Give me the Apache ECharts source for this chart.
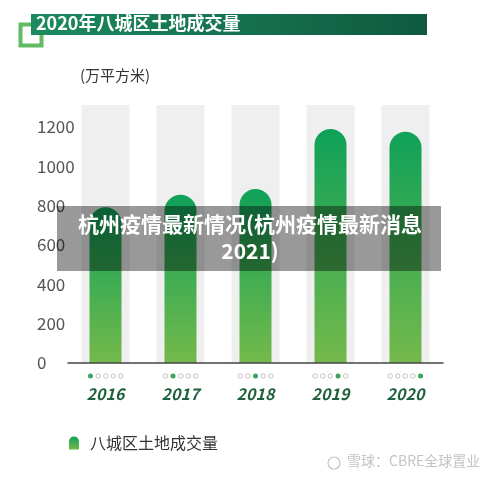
<!DOCTYPE html>
<html>
<head>
<meta charset="utf-8">
<script src="https://cdn.jsdelivr.net/npm/echarts@6/dist/echarts.min.js"></script>
<style>
  html, body { margin: 0; padding: 0; background: #fff; }
  #chart { width: 500px; height: 477px; }
</style>
</head>
<body>
<div id="chart"></div>
<script>
const years = ["2016", "2017", "2018", "2019", "2020"];
const landVolume = [792, 855, 885, 1190, 1176];
const bandTop = [1312, 1312, 1312, 1312, 1312];
const yTicks = [0, 200, 400, 600, 800, 1000, 1200];

const font = "Noto Sans CJK SC";
const chart = echarts.init(document.getElementById("chart"));

const barColor = new echarts.graphic.LinearGradient(0, 0, 0, 1, [
  { offset: 0, color: "#0fa159" },
  { offset: 1, color: "#74b94b" },
]);

// dots under each year: nth one filled
const dotLabel = (value, index) => {
  let s = "";
  for (let i = 0; i < years.length; i++) {
    s += i === index ? "{on| }" : "{off| }";
    if (i < years.length - 1) s += "{g| }";
  }
  return s + "\n{y|" + value + "}";
};

const option = {
  backgroundColor: "#fff",
  textStyle: { fontFamily: font },
  animation: false,
  legend: {
    left: 64,
    top: 430,
    itemWidth: 10,
    itemHeight: 13,
    itemGap: 10,
    icon: "path://M0,13 L0,5 A5,5 0 0 1 10,5 L10,13 Z",
    textStyle: { fontSize: 16, color: "#333", fontFamily: font, padding: [0, 0, 0, 6] },
    data: ["八城区土地成交量"],
  },
  grid: { top: 127, bottom: 114, left: 68, right: 57 },
  xAxis: [
    {
      type: "category",
      data: years,
      axisTick: { show: false },
      axisLine: { lineStyle: { color: "#444", width: 1.5 } },
      axisLabel: {
        interval: 0,
        margin: 10,
        formatter: dotLabel,
        rich: {
          on: { width: 5, height: 5, lineHeight: 6, borderRadius: 2.5, backgroundColor: "#3aa35c" },
          off: { width: 4.5, height: 4.5, lineHeight: 6, borderRadius: 2.5, borderColor: "#bdbdbd", borderWidth: 0.9 },
          g: { width: 3, lineHeight: 6 },
          y: {
            fontSize: 16,
            lineHeight: 30,
            fontWeight: "bold",
            fontStyle: "italic",
            color: "#1e5f3c",
            fontFamily: font,
          },
        },
      },
      z: 5,
    },
    {
      type: "category",
      data: years,
      show: false,
    },
  ],
  yAxis: {
    type: "value",
    min: 0,
    max: 1200,
    interval: 200,
    splitLine: { show: false },
    axisLine: { show: false },
    axisTick: { show: false },
    axisLabel: {
      margin: 31,
      align: "left",
      fontSize: 17,
      color: "#555",
      fontFamily: font,
      formatter: (v) => (yTicks.includes(v) ? String(v) : ""),
    },
  },
  series: [
    {
      name: "band",
      type: "bar",
      xAxisIndex: 1,
      data: bandTop,
      barWidth: 48,
      clip: false,
      silent: true,
      itemStyle: { color: "#efefef" },
      z: 1,
    },
    {
      name: "八城区土地成交量",
      type: "bar",
      data: landVolume,
      barWidth: 32,
      itemStyle: { color: barColor, borderRadius: [16, 16, 0, 0] },
      z: 3,
    },
  ],
  graphic: [
    {
      type: "rect",
      shape: { x: 20.5, y: 24.5, width: 21, height: 21 },
      style: { fill: "none", stroke: "#62bb64", lineWidth: 4 },
      z: 10,
    },
    {
      type: "rect",
      shape: { x: 31, y: 14, width: 396, height: 21 },
      style: {
        fill: new echarts.graphic.LinearGradient(0, 0, 1, 0, [
          { offset: 0, color: "#1c8a60" },
          { offset: 1, color: "#0f5a40" },
        ]),
      },
      z: 11,
    },
    {
      type: "text",
      left: 36,
      top: 14,
      style: { text: "2020年八城区土地成交量", fill: "#fff", font: "bold 18px '" + font + "'" },
      z: 12,
    },
    {
      type: "text",
      left: 80,
      top: 68,
      style: { text: "(万平方米)", fill: "#333", font: "15px '" + font + "'" },
      z: 12,
    },
    {
      type: "circle",
      shape: { cx: 334, cy: 463, r: 6 },
      style: { fill: "none", stroke: "#c4c4c4", lineWidth: 1.2 },
      z: 12,
    },
    {
      type: "text",
      left: 347,
      top: 454,
      style: { text: "雪球：CBRE全球置业", fill: "#c4c4c4", font: "14px '" + font + "'" },
      z: 12,
    },
    {
      type: "rect",
      shape: { x: 57, y: 206, width: 384, height: 65 },
      style: { fill: "rgba(0,0,0,0.4)" },
      z: 20,
    },
    {
      type: "text",
      x: 250,
      y: 238,
      style: {
        text: "杭州疫情最新情况(杭州疫情最新消息\n2021)",
        fill: "#fff",
        align: "center",
        verticalAlign: "middle",
        lineHeight: 27,
        font: "bold 21px '" + font + "'",
      },
      z: 21,
    },
  ],
};

chart.setOption(option);
</script>
</body>
</html>
